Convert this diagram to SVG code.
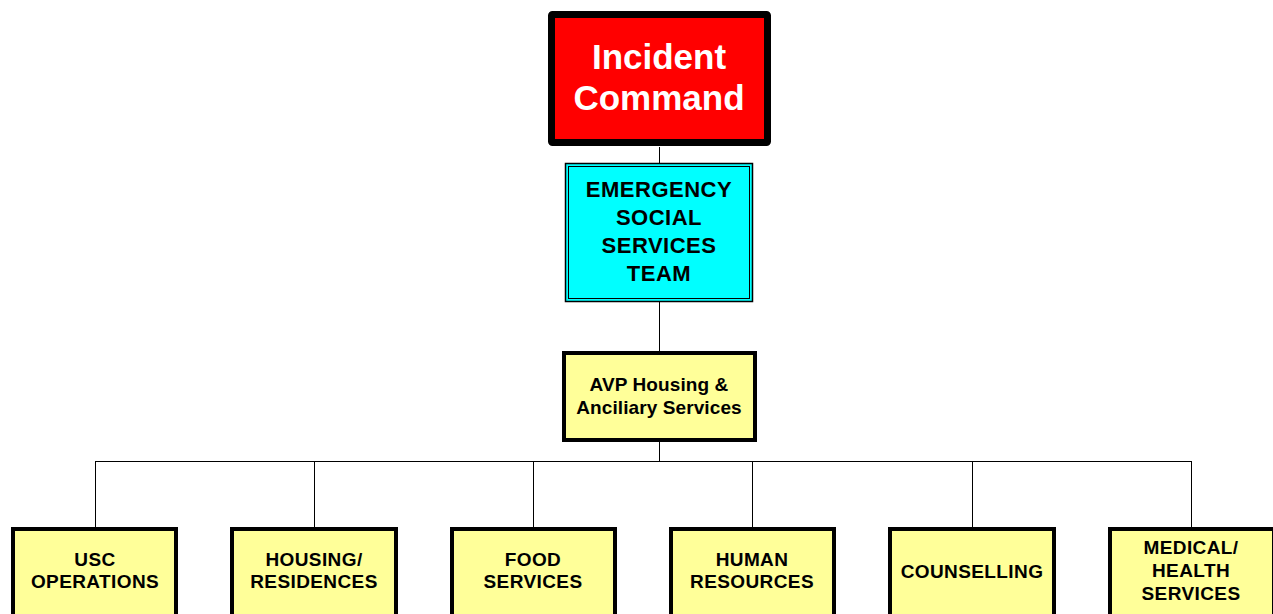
<svg xmlns="http://www.w3.org/2000/svg" width="1273" height="614" viewBox="0 0 1273 614">
<style>
text{font-family:"Liberation Sans",Arial,sans-serif;font-weight:bold;text-anchor:middle;fill:#000}
.leaf{fill:#FFFF99;stroke:#000;stroke-width:4}
.lt{font-size:19px;letter-spacing:0.4px}
.at{font-size:19px;letter-spacing:0.1px}
.et{font-size:22px;letter-spacing:0.5px}
.conn{stroke:#000;stroke-width:1;fill:none}
</style>
<rect width="1273" height="614" fill="#fff"/>
<g id="connectors">
<line class="conn" x1="659.5" y1="147" x2="659.5" y2="163"/>
<line class="conn" x1="659.5" y1="302" x2="659.5" y2="352"/>
<line class="conn" x1="659.5" y1="442" x2="659.5" y2="461" stroke-width="2"/>
<line class="conn" x1="95" y1="461.5" x2="1191" y2="461.5"/>
<line class="conn" x1="95.5" y1="461" x2="95.5" y2="527"/>
<line class="conn" x1="314.5" y1="461" x2="314.5" y2="527"/>
<line class="conn" x1="533.5" y1="461" x2="533.5" y2="527"/>
<line class="conn" x1="752.5" y1="461" x2="752.5" y2="527"/>
<line class="conn" x1="972.5" y1="461" x2="972.5" y2="527"/>
<line class="conn" x1="1191.5" y1="461" x2="1191.5" y2="527"/>
</g>
<g id="incident-command">
<rect x="551.5" y="14.5" width="216" height="128" fill="#FF0000" stroke="#000" stroke-width="7" rx="1"/>
<text x="659" y="69" style="font-size:35px;fill:#fff">Incident</text>
<text x="659" y="110" style="font-size:35px;fill:#fff">Command</text>
</g>
<g id="ess-team">
<rect x="565.5" y="163.5" width="187" height="138" fill="#00FFFF" stroke="#000" stroke-width="1.5"/>
<rect x="568.5" y="166.5" width="181" height="132" fill="none" stroke="#000" stroke-width="1"/>
<text class="et" x="659" y="197">EMERGENCY</text>
<text class="et" x="659" y="225">SOCIAL</text>
<text class="et" x="659" y="253">SERVICES</text>
<text class="et" x="659" y="281">TEAM</text>
</g>
<g id="avp">
<rect class="leaf" x="564" y="353" width="191" height="87"/>
<text class="at" x="659" y="391">AVP Housing &amp;</text>
<text class="at" x="659" y="414">Anciliary Services</text>
</g>
<g id="usc-operations">
<rect class="leaf" x="13" y="529" width="163" height="95"/>
<text class="lt" x="95" y="566">USC</text>
<text class="lt" x="95" y="588">OPERATIONS</text>
</g>
<g id="housing-residences">
<rect class="leaf" x="232" y="529" width="164" height="95"/>
<text class="lt" x="314" y="566">HOUSING/</text>
<text class="lt" x="314" y="588">RESIDENCES</text>
</g>
<g id="food-services">
<rect class="leaf" x="452" y="529" width="163" height="95"/>
<text class="lt" x="533" y="566">FOOD</text>
<text class="lt" x="533" y="588">SERVICES</text>
</g>
<g id="human-resources">
<rect class="leaf" x="671" y="529" width="163" height="95"/>
<text class="lt" x="752" y="566">HUMAN</text>
<text class="lt" x="752" y="588">RESOURCES</text>
</g>
<g id="counselling">
<rect class="leaf" x="890" y="529" width="164" height="95"/>
<text class="lt" x="972" y="578">COUNSELLING</text>
</g>
<g id="medical-health">
<rect class="leaf" x="1110" y="529" width="164" height="95"/>
<text class="lt" x="1191" y="554">MEDICAL/</text>
<text class="lt" x="1191" y="577">HEALTH</text>
<text class="lt" x="1191" y="600">SERVICES</text>
</g>
</svg>
